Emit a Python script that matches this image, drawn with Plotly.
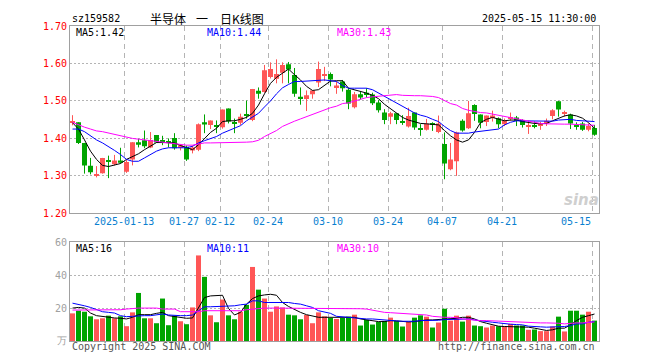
import plotly.graph_objects as go

# ---------------- data ----------------
opens = [1.442, 1.443, 1.388, 1.327, 1.302, 1.307, 1.342, 1.331, 1.341, 1.311,
         1.344, 1.390, 1.395, 1.376, 1.409, 1.395, 1.390, 1.401, 1.375, 1.378,
         1.368, 1.370, 1.443, 1.436, 1.436, 1.430, 1.480, 1.444, 1.442, 1.462,
         1.449, 1.527, 1.524, 1.564, 1.559, 1.575, 1.598, 1.569, 1.511, 1.505,
         1.518, 1.549, 1.567, 1.572, 1.537, 1.552, 1.530, 1.483, 1.518, 1.522,
         1.517, 1.496, 1.469, 1.458, 1.467, 1.446, 1.432, 1.469, 1.427, 1.423,
         1.440, 1.417, 1.385, 1.318, 1.339, 1.447, 1.427, 1.489, 1.464, 1.444,
         1.456, 1.454, 1.438, 1.453, 1.456, 1.449, 1.433, 1.436, 1.435, 1.440,
         1.460, 1.499, 1.467, 1.464, 1.436, 1.440, 1.423, 1.428]
highs = [1.462, 1.443, 1.388, 1.348, 1.326, 1.348, 1.354, 1.356, 1.375, 1.344,
         1.390, 1.399, 1.421, 1.417, 1.409, 1.407, 1.400, 1.414, 1.385, 1.381,
         1.381, 1.440, 1.464, 1.448, 1.448, 1.477, 1.480, 1.453, 1.466, 1.501,
         1.532, 1.536, 1.596, 1.603, 1.611, 1.603, 1.604, 1.588, 1.536, 1.528,
         1.528, 1.605, 1.591, 1.576, 1.552, 1.556, 1.534, 1.524, 1.524, 1.534,
         1.522, 1.502, 1.478, 1.471, 1.467, 1.462, 1.482, 1.469, 1.438, 1.452,
         1.443, 1.461, 1.416, 1.388, 1.418, 1.451, 1.500, 1.491, 1.464, 1.461,
         1.474, 1.456, 1.453, 1.469, 1.460, 1.451, 1.447, 1.445, 1.444, 1.453,
         1.478, 1.500, 1.474, 1.466, 1.443, 1.444, 1.440, 1.436]
lows = [1.435, 1.385, 1.306, 1.304, 1.296, 1.306, 1.294, 1.328, 1.333, 1.308,
        1.328, 1.376, 1.374, 1.374, 1.388, 1.382, 1.376, 1.370, 1.368, 1.340,
        1.360, 1.366, 1.414, 1.425, 1.414, 1.426, 1.440, 1.414, 1.436, 1.453,
        1.446, 1.506, 1.522, 1.560, 1.547, 1.547, 1.547, 1.511, 1.490, 1.473,
        1.506, 1.537, 1.553, 1.539, 1.519, 1.525, 1.478, 1.480, 1.504, 1.509,
        1.489, 1.469, 1.438, 1.438, 1.438, 1.436, 1.429, 1.423, 1.407, 1.421,
        1.420, 1.414, 1.291, 1.315, 1.300, 1.418, 1.425, 1.447, 1.427, 1.433,
        1.445, 1.427, 1.433, 1.447, 1.433, 1.429, 1.412, 1.427, 1.423, 1.433,
        1.451, 1.458, 1.458, 1.425, 1.423, 1.420, 1.419, 1.407]
closes = [1.444, 1.388, 1.328, 1.310, 1.304, 1.348, 1.339, 1.341, 1.335, 1.337,
          1.390, 1.383, 1.379, 1.396, 1.389, 1.392, 1.388, 1.374, 1.382, 1.344,
          1.376, 1.438, 1.437, 1.448, 1.432, 1.477, 1.445, 1.440, 1.458, 1.460,
          1.532, 1.519, 1.582, 1.585, 1.572, 1.596, 1.584, 1.519, 1.505, 1.515,
          1.528, 1.585, 1.569, 1.557, 1.541, 1.534, 1.493, 1.518, 1.509, 1.518,
          1.494, 1.475, 1.449, 1.467, 1.449, 1.442, 1.460, 1.429, 1.425, 1.439,
          1.437, 1.440, 1.333, 1.344, 1.416, 1.421, 1.467, 1.465, 1.442, 1.461,
          1.461, 1.438, 1.447, 1.456, 1.447, 1.436, 1.436, 1.433, 1.439, 1.447,
          1.475, 1.477, 1.470, 1.440, 1.432, 1.423, 1.433, 1.410]
volumes = [16.8, 18.4, 17.8, 15.0, 13.2, 13.8, 15.4, 13.8, 15.0, 9.0,
           17.4, 29.2, 13.8, 13.8, 10.8, 25.8, 9.6, 15.4, 12.0, 10.2,
           20.4, 52.0, 39.0, 15.6, 11.4, 25.2, 15.6, 13.2, 17.8, 22.0,
           45.0, 31.2, 25.8, 17.8, 21.0, 20.4, 16.0, 15.6, 13.2, 15.8,
           10.8, 17.4, 15.0, 14.0, 13.4, 14.0, 14.8, 16.0, 9.4, 12.8,
           10.0, 11.6, 12.2, 14.2, 12.2, 8.8, 11.6, 14.2, 15.6, 14.8,
           8.2, 11.2, 19.6, 12.4, 15.4, 11.8, 15.4, 9.4, 9.0, 8.2,
           9.4, 9.0, 9.0, 10.4, 9.4, 9.4, 6.8, 7.0, 6.0, 6.0,
           8.8, 14.8, 5.8, 18.4, 18.4, 16.0, 17.8, 12.4]
ma5 = [1.442, 1.425, 1.396, 1.366, 1.344, 1.328, 1.325, 1.328, 1.333, 1.344,
       1.351, 1.359, 1.370, 1.379, 1.389, 1.389, 1.389, 1.388, 1.381, 1.375,
       1.370, 1.383, 1.401, 1.416, 1.427, 1.445, 1.447, 1.447, 1.451, 1.456,
       1.467, 1.489, 1.519, 1.547, 1.563, 1.574, 1.585, 1.570, 1.556, 1.539,
       1.528, 1.530, 1.541, 1.553, 1.554, 1.554, 1.534, 1.530, 1.526, 1.521,
       1.515, 1.506, 1.491, 1.480, 1.468, 1.456, 1.449, 1.445, 1.440, 1.439,
       1.438, 1.436, 1.421, 1.407, 1.396, 1.390, 1.396, 1.416, 1.442, 1.451,
       1.456, 1.451, 1.447, 1.449, 1.449, 1.445, 1.442, 1.440, 1.439, 1.440,
       1.447, 1.454, 1.460, 1.463, 1.460, 1.454, 1.442, 1.427]
ma10 = [1.425, 1.425, 1.418, 1.407, 1.396, 1.388, 1.379, 1.368, 1.357, 1.344,
        1.339, 1.339, 1.348, 1.357, 1.366, 1.372, 1.375, 1.375, 1.375, 1.375,
        1.379, 1.388, 1.394, 1.399, 1.405, 1.414, 1.420, 1.427, 1.434, 1.447,
        1.456, 1.467, 1.484, 1.500, 1.519, 1.535, 1.544, 1.552, 1.552, 1.553,
        1.554, 1.556, 1.556, 1.554, 1.552, 1.541, 1.534, 1.534, 1.535, 1.534,
        1.530, 1.521, 1.511, 1.502, 1.493, 1.484, 1.477, 1.468, 1.462, 1.458,
        1.451, 1.445, 1.432, 1.421, 1.414, 1.414, 1.414, 1.417, 1.419, 1.421,
        1.423, 1.425, 1.436, 1.443, 1.447, 1.447, 1.447, 1.446, 1.446, 1.445,
        1.446, 1.449, 1.451, 1.451, 1.448, 1.447, 1.445, 1.445]
ma30 = [1.443, 1.436, 1.430, 1.425, 1.420, 1.418, 1.414, 1.410, 1.407, 1.403,
        1.400, 1.398, 1.396, 1.395, 1.392, 1.389, 1.388, 1.386, 1.383, 1.382,
        1.382, 1.385, 1.388, 1.388, 1.388, 1.388, 1.388, 1.388, 1.388, 1.390,
        1.391, 1.395, 1.405, 1.412, 1.421, 1.432, 1.440, 1.446, 1.452, 1.458,
        1.465, 1.471, 1.477, 1.482, 1.486, 1.493, 1.495, 1.500, 1.506, 1.509,
        1.511, 1.513, 1.515, 1.515, 1.517, 1.515, 1.514, 1.514, 1.514, 1.513,
        1.512, 1.509, 1.500, 1.493, 1.489, 1.480, 1.475, 1.471, 1.469, 1.468,
        1.465, 1.462, 1.460, 1.456, 1.453, 1.449, 1.446, 1.444, 1.440, 1.439,
        1.438, 1.438, 1.438, 1.438, 1.437, 1.437, 1.436, 1.435]
vma5 = [20, 20.4, 20, 17, 15.4, 14.8, 14.4, 14, 13.8, 13.4,
        14.4, 16, 16, 16, 16.8, 17.4, 15.4, 15, 14.4, 13.8,
        14, 20.4, 26.4, 27.4, 27.4, 27.8, 19.8, 15.8, 17.4, 22.4,
        25.8, 27.4, 28, 28.4, 27.8, 23.4, 21, 19, 17.4, 16,
        15, 14.4, 14.4, 14.4, 14, 14.4, 14.4, 14.4, 13.4, 12.8,
        12.2, 11.8, 11.8, 12.4, 12.2, 11.8, 11.6, 11.8, 12.4, 12.8,
        12.8, 13, 13.4, 13.4, 13.8, 14.4, 14.4, 13.4, 11.8, 10.8,
        9.8, 9, 8.8, 8.8, 8.8, 8.8, 8.4, 7.8, 7, 6.4,
        6.8, 7.8, 7.8, 9.8, 12.4, 14.4, 15.4, 16.4]
vma10 = [23, 22.4, 21.4, 20.4, 19, 17.8, 17.4, 17, 15.4, 14.8,
         15, 15.4, 15.4, 15.4, 15.8, 16.4, 15.8, 15.4, 15.4, 15.4,
         15.8, 18.4, 20.8, 20.8, 21, 21, 21, 21.4, 22, 22.4,
         24.4, 24.4, 23.4, 23.4, 23.4, 23.4, 23.4, 22.8, 22.4, 21.4,
         20.4, 18.4, 17.4, 16.8, 15, 14.6, 14.4, 14.2, 13.8, 13.4,
         13.4, 13, 12.6, 12.4, 12.2, 12, 11.8, 12, 12.4, 12.4,
         12.6, 12.6, 13, 13, 13.4, 13.4, 13.4, 12.8, 12.2, 11.8,
         11.4, 11, 10.4, 10.2, 10, 9.8, 9, 8.6, 8.6, 8.4,
         8.4, 8.6, 8.8, 9.4, 10.4, 10.4, 11.4, 11.8]
vma30 = [18.8, 18.8, 18.8, 18.8, 18.8, 18.8, 19, 19, 19, 19.4,
         19.8, 20, 20, 20, 20, 19.4, 19.4, 19.4, 17.8, 17.8,
         17.8, 17.8, 18.4, 18.4, 18.4, 18.4, 18.4, 18.4, 18.4, 19,
         19.4, 20, 20, 20, 20, 20, 20, 20, 20, 20,
         20, 20, 20, 20, 19.8, 19.8, 19.8, 19.8, 19.6, 19.4,
         18.6, 18, 17.4, 17.2, 17, 17, 16.8, 16.2, 16, 15.8,
         15, 14.6, 14.4, 14.4, 14.2, 13.4, 13, 12.6, 12.4, 12.4,
         12.2, 12, 11.8, 11.6, 11.4, 11.4, 11.2, 11, 11, 11,
         11, 10.8, 10.4, 10.8, 11, 11, 11.4, 11.6]
tick_idx = [9, 19, 25, 33, 43, 53, 62, 72, 87]
tick_labels = ["2025-01-13", "01-27", "02-12", "02-24", "03-10", "03-24", "04-07", "04-21", "05-15"]
price_ticks = [1.2, 1.3, 1.4, 1.5, 1.6, 1.7]
vol_ticks = [0, 20, 40, 60]
vol_tick_text = ["万", "20", "40", "60"]

# ---------------- styling ----------------
RED = "#ff5656"
GREEN = "#00a400"
MONO = "DejaVu Sans Mono"
CJK = "Noto Sans CJK SC"
GRID = "#b4b4b4"
BORDER = "#a0a0a0"

n = len(closes)
idx = list(range(n))
up = [c >= o for o, c in zip(opens, closes)]

fig = go.Figure()

# candles: wicks + bodies
for flag, col in [(True, RED), (False, GREEN)]:
    wx, wy = [], []
    for i in idx:
        if up[i] == flag:
            wx += [i, i, None]
            wy += [lows[i], highs[i], None]
    fig.add_trace(go.Scatter(x=wx, y=wy, mode="lines", line=dict(color=col, width=1),
                             xaxis="x", yaxis="y", hoverinfo="skip", showlegend=False))
    bx = [i for i in idx if up[i] == flag]
    base = [min(opens[i], closes[i]) for i in bx]
    hgt = [max(abs(closes[i] - opens[i]), 0.0027) for i in bx]
    fig.add_trace(go.Bar(x=bx, y=hgt, base=base, width=5 / 6,
                         marker=dict(color=col, line=dict(width=0)),
                         xaxis="x", yaxis="y", showlegend=False))

# MA lines (price)
for vals, col in [(ma5, "#000000"), (ma10, "#0000ff"), (ma30, "#ff00ff")]:
    fig.add_trace(go.Scatter(x=idx, y=vals, mode="lines", line=dict(color=col, width=1),
                             xaxis="x", yaxis="y", hoverinfo="skip", showlegend=False))

# volume bars
fig.add_trace(go.Bar(x=idx, y=volumes, width=5 / 6,
                     marker=dict(color=[RED if u else GREEN for u in up], line=dict(width=0)),
                     xaxis="x2", yaxis="y2", showlegend=False))
for vals, col in [(vma5, "#000000"), (vma10, "#0000ff"), (vma30, "#ff00ff")]:
    fig.add_trace(go.Scatter(x=idx, y=vals, mode="lines", line=dict(color=col, width=1),
                             xaxis="x2", yaxis="y2", hoverinfo="skip", showlegend=False))

# ---------------- layout ----------------
# the page body has an 8px margin, so the figure is drawn 8px in from the window edge
OFF = 8
W, H = 660 - OFF, 360 - OFF
L, T = 70 - OFF, 21 - OFF
R = W - (599 - OFF)
B = H - (341 - OFF)
PW = W - L - R
PH = H - T - B


def px(x):  # window x -> paper x
    return (x - OFF - L) / PW


def py(y):  # window y -> paper y
    return (H - B - (y - OFF)) / PH


grid_x = [i - 0.38 for i in tick_idx]
xcommon = dict(range=[-0.4167, 87.75], tickvals=grid_x, showticklabels=False, ticks="",
               showgrid=True, gridcolor=GRID, griddash="5px,4px", gridwidth=1,
               showline=True, mirror=True, linecolor=BORDER, linewidth=1,
               zeroline=False, fixedrange=True)

fig.update_layout(
    width=W, height=H, margin=dict(l=L, r=R, t=T, b=B),
    paper_bgcolor="white", plot_bgcolor="white",
    barmode="overlay", showlegend=False,
    xaxis=dict(**xcommon, domain=[0, 1], anchor="y"),
    yaxis=dict(domain=[py(211.33), 1], range=[1.2, 1.7], tickvals=price_ticks,
               ticktext=[f"{v:.2f}" for v in price_ticks],
               tickfont=dict(color="#ff0000", size=10, family=MONO), ticks="",
               showgrid=True, gridcolor=GRID, griddash="2px,2px", gridwidth=1,
               showline=True, mirror=True, linecolor=BORDER, linewidth=1,
               zeroline=False, anchor="x", fixedrange=True),
    xaxis2=dict(**xcommon, domain=[0, 1], anchor="y2"),
    yaxis2=dict(domain=[0, py(240.7)], range=[0, 60], tickvals=vol_ticks,
                ticktext=vol_tick_text,
                tickfont=dict(color="#a0a0a0", size=10, family=MONO), ticks="",
                showgrid=True, gridcolor=GRID, griddash="2px,2px", gridwidth=1,
                showline=True, mirror=True, linecolor=BORDER, linewidth=1,
                zeroline=False, anchor="x2", fixedrange=True),
)

ann = []


def txt(text, x, y, color="#000000", size=10, family=MONO, xanchor="left", xref="paper", **kw):
    ann.append(dict(text=text, x=x, y=y, xref=xref, yref="paper", xanchor=xanchor,
                    yanchor="middle", showarrow=False,
                    font=dict(color=color, size=size, family=family, **kw)))


# header
txt("sz159582", px(70), py(13))
txt("半导体", px(148), py(13), size=12, family=CJK)
txt("一", px(202), py(13), size=12, family=CJK, xanchor="center")
txt("日K线图", px(218), py(13), size=12, family=CJK)
txt("2025-05-15 11:30:00", px(598), py(13), xanchor="right")
# MA legends
txt("MA5:1.42", px(74), py(27.5), color="#000000")
txt("MA10:1.44", px(205), py(27.5), color="#0000ff")
txt("MA30:1.43", px(335), py(27.5), color="#ff00ff")
txt("MA5:16", px(74), py(247), color="#000000")
txt("MA10:11", px(205), py(247), color="#0000ff")
txt("MA30:10", px(335), py(247), color="#ff00ff")
# date labels
for i, lab in zip(tick_idx, tick_labels):
    anchor = "right" if i == tick_idx[-1] else "center"
    txt(lab, i - 0.38 + (0.2 if anchor == "right" else 0), py(220), color="#0a7fd0",
        xanchor=anchor, xref="x")
# footer
txt("Copyright 2025 SINA.COM", px(70), py(347), color="#555555")
txt("http://finance.sina.com.cn", px(597), py(347), color="#555555", xanchor="right")
# watermark
txt("sina", px(581), py(198), color="#cfcfcf", size=15, family="DejaVu Sans",
    xanchor="center", weight="bold", style="italic")

fig.update_layout(annotations=ann)
fig.write_html("out.html")
